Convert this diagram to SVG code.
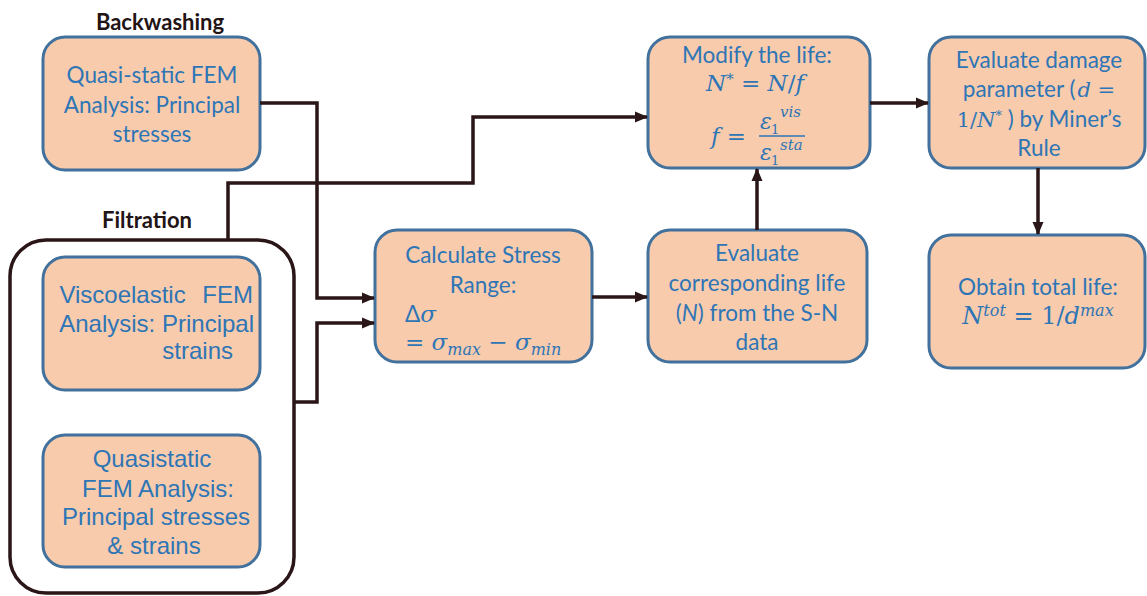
<svg xmlns="http://www.w3.org/2000/svg" width="1147" height="596" viewBox="0 0 1147 596">
<defs>
<marker id="arr" markerUnits="userSpaceOnUse" markerWidth="14" markerHeight="12" refX="12" refY="6" orient="auto">
<path d="M0,0.5 L13,6 L0,11.5 z" fill="#2A1517"/>
</marker>
<style>
.box{fill:#F8CBAD;stroke:#41719C;stroke-width:3}
.t{font-family:Lato,"Open Sans",sans-serif;font-size:22.5px;fill:#2E75B6;text-anchor:middle}
.a{font-family:"Liberation Sans",Arial,sans-serif;font-size:24px;fill:#2E75B6;text-anchor:middle}
.m{font-family:"DejaVu Serif","Liberation Serif",serif;font-style:italic;font-size:23px;fill:#2E75B6}
.u{font-style:normal}
.lbl{font-family:Lato,"Open Sans",sans-serif;font-weight:bold;font-size:22px;fill:#231415;text-anchor:middle}
.c{fill:none;stroke:#2A1517;stroke-width:3.5}
</style>
</defs>
<rect width="1147" height="596" fill="#ffffff"/>

<g id="backwashing">
<text class="lbl" x="160" y="30">Backwashing</text>
<rect class="box" x="43" y="37" width="217" height="133" rx="22"/>
<text class="t" x="152" y="83">Quasi-static FEM</text>
<text class="t" x="152" y="113">Analysis: Principal</text>
<text class="t" x="152" y="142">stresses</text>
</g>

<g id="filtration">
<text class="lbl" x="147" y="228">Filtration</text>
<rect x="10" y="240" width="284" height="353" rx="36" fill="none" stroke="#2A1517" stroke-width="3.5"/>
</g>

<g id="viscoelastic">
<rect class="box" x="43" y="257" width="217" height="133" rx="22"/>
<text class="a" x="253" y="303" style="text-anchor:end" word-spacing="10">Viscoelastic FEM</text>
<text class="a" x="254" y="332" style="text-anchor:end">Analysis: Principal</text>
<text class="a" x="233" y="359" style="text-anchor:end">strains</text>
</g>

<g id="quasistatic">
<rect class="box" x="43" y="435" width="217" height="132" rx="22"/>
<text class="a" x="152" y="467">Quasistatic</text>
<text class="a" x="158" y="497">FEM Analysis:</text>
<text class="a" x="156" y="525">Principal stresses</text>
<text class="a" x="154" y="554">&amp; strains</text>
</g>

<g id="calculate">
<rect class="box" x="375" y="230" width="217" height="132" rx="22"/>
<text class="t" x="483" y="263">Calculate Stress</text>
<text class="t" x="483" y="293">Range:</text>
<text class="m" x="405" y="322"><tspan class="u" style="font-family:Lato,sans-serif;font-size:22.5px">Δ</tspan>σ</text>
<text class="m" x="405" y="350"><tspan class="u">=</tspan> σ<tspan style="font-size:16px" dy="5">max</tspan><tspan dy="-5" class="u"> − </tspan>σ<tspan style="font-size:16px" dy="5">min</tspan></text>
</g>

<g id="evallife">
<rect class="box" x="648" y="230" width="219" height="132" rx="22"/>
<text class="t" x="757" y="261">Evaluate</text>
<text class="t" x="757" y="291">corresponding life</text>
<text class="t" x="757" y="321">(<tspan font-style="italic">N</tspan>) from the S-N</text>
<text class="t" x="757" y="350">data</text>
</g>

<g id="modify">
<rect class="box" x="648" y="37" width="222" height="131" rx="22"/>
<text class="t" x="757" y="63">Modify the life:</text>
<text class="m" x="755" y="91" text-anchor="middle">N<tspan style="font-size:15px" dy="-7">*</tspan><tspan dy="7" class="u"> = </tspan>N<tspan class="u">/</tspan>f</text>
<text class="m" x="711" y="144">f <tspan class="u">=</tspan></text>
<line x1="759" y1="136" x2="805" y2="136" stroke="#2E75B6" stroke-width="1.6"/>
<text class="m" x="760" y="129" style="font-size:22px">ε</text>
<text class="m u" x="771" y="134" style="font-size:13px">1</text>
<text class="m" x="780" y="117" style="font-size:15px">vis</text>
<text class="m" x="760" y="160" style="font-size:22px">ε</text>
<text class="m u" x="771" y="165" style="font-size:13px">1</text>
<text class="m" x="780" y="150" style="font-size:15px">sta</text>
</g>

<g id="damage">
<rect class="box" x="929" y="37" width="216" height="131" rx="22"/>
<text class="t" x="1039" y="68">Evaluate damage</text>
<text class="t" x="1039" y="97">parameter (<tspan class="m" style="font-size:21px" dx="2">d</tspan><tspan class="m u" style="font-size:21px"> =</tspan></text>
<text class="t" x="1039" y="127"><tspan class="m u" style="font-size:21px">1/</tspan><tspan class="m" style="font-size:21px">N</tspan><tspan class="m u" style="font-size:13px" dy="-7">*</tspan><tspan dy="7"> ) by Miner’s</tspan></text>
<text class="t" x="1039" y="156">Rule</text>
</g>

<g id="total">
<rect class="box" x="929" y="235" width="216" height="133" rx="22"/>
<text class="t" x="1038" y="295">Obtain total life:</text>
<text class="m" x="1038" y="324" text-anchor="middle" style="font-size:24px">N<tspan style="font-size:16px" dy="-8">tot</tspan><tspan class="u" dy="8"> = 1/</tspan>d<tspan style="font-size:16px" dy="-8">max</tspan></text>
</g>

<g id="connectors">
<path class="c" d="M260,103 H317 V298 H374" marker-end="url(#arr)"/>
<path class="c" d="M295,402 H317 V323 H374" marker-end="url(#arr)"/>
<path class="c" d="M228,240 V183 H473 V117 H647" marker-end="url(#arr)"/>
<path class="c" d="M592,297 H647" marker-end="url(#arr)"/>
<path class="c" d="M757,230 V169" marker-end="url(#arr)"/>
<path class="c" d="M870,103 H928" marker-end="url(#arr)"/>
<path class="c" d="M1038,168 V234" marker-end="url(#arr)"/>
</g>
</svg>
